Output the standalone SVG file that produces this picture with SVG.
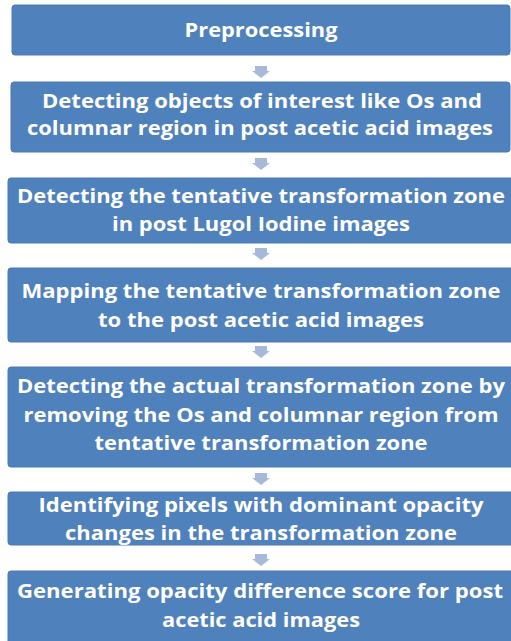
<svg xmlns="http://www.w3.org/2000/svg" width="511" height="641" viewBox="0 0 511 641">
<style>
.box{fill:#4F81BD;stroke:#4A7AB4;stroke-width:1}
.t{font-family:"Open Sans","Liberation Sans",sans-serif;font-weight:bold;font-size:20px;fill:#FFFFFF;text-anchor:middle}
.arr{fill:#A7B9D9}
</style>
<defs>
<path id="dn" d="M-6,0 H6 V5 H9 L0,12 L-9,5 H-6 Z"/>
</defs>
<g id="connectors" class="arr">
<use href="#dn" x="261" y="66"/>
<use href="#dn" x="261" y="158"/>
<use href="#dn" x="261" y="248"/>
<use href="#dn" x="261" y="346"/>
<use href="#dn" x="261" y="473"/>
<use href="#dn" x="261" y="554"/>
</g>
<g id="n1">
<rect class="box" x="12" y="5" width="498" height="50" rx="3"/>
<text class="t" x="261" y="37" textLength="153" lengthAdjust="spacingAndGlyphs">Preprocessing</text>
</g>
<g id="n2">
<rect class="box" x="11" y="82" width="499" height="70" rx="3"/>
<text class="t" x="262" y="108" textLength="440" lengthAdjust="spacingAndGlyphs">Detecting objects of interest like Os and</text>
<text class="t" x="260" y="135" textLength="466" lengthAdjust="spacingAndGlyphs">columnar region in post acetic acid images</text>
</g>
<g id="n3">
<rect class="box" x="8" y="178" width="508" height="65" rx="3"/>
<text class="t" x="261" y="203" textLength="488" lengthAdjust="spacingAndGlyphs">Detecting the tentative transformation zone</text>
<text class="t" x="261" y="231" textLength="298" lengthAdjust="spacingAndGlyphs">in post Lugol Iodine images</text>
</g>
<g id="n4">
<rect class="box" x="8" y="268" width="508" height="74" rx="3"/>
<text class="t" x="261" y="298" textLength="479" lengthAdjust="spacingAndGlyphs">Mapping the tentative transformation zone</text>
<text class="t" x="261" y="327" textLength="326" lengthAdjust="spacingAndGlyphs">to the post acetic acid images</text>
</g>
<g id="n5">
<rect class="box" x="8" y="367" width="508" height="100" rx="3"/>
<text class="t" x="261" y="393" textLength="488" lengthAdjust="spacingAndGlyphs">Detecting the actual transformation zone by</text>
<text class="t" x="261" y="422" textLength="475" lengthAdjust="spacingAndGlyphs">removing the Os and columnar region from</text>
<text class="t" x="261" y="450" textLength="333" lengthAdjust="spacingAndGlyphs">tentative transformation zone</text>
</g>
<g id="n6">
<rect class="box" x="8" y="492" width="508" height="53" rx="3"/>
<text class="t" x="261" y="512" textLength="445" lengthAdjust="spacingAndGlyphs">Identifying pixels with dominant opacity</text>
<text class="t" x="261" y="540" textLength="392" lengthAdjust="spacingAndGlyphs">changes in the transformation zone</text>
</g>
<g id="n7">
<rect class="box" x="8" y="571" width="508" height="80" rx="3"/>
<text class="t" x="260" y="598" textLength="486" lengthAdjust="spacingAndGlyphs">Generating opacity difference score for post</text>
<text class="t" x="261" y="627" textLength="198" lengthAdjust="spacingAndGlyphs">acetic acid images</text>
</g>
</svg>
